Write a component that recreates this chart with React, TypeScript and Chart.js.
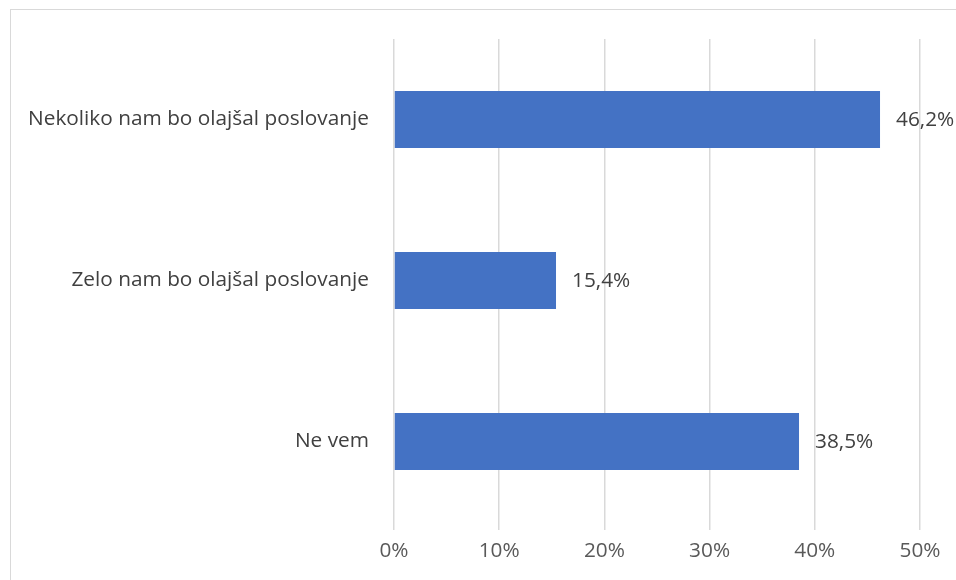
import React, { useEffect, useRef } from "react";
import { Chart, registerables } from "chart.js";

Chart.register(...registerables);

const categories = [
  "Nekoliko nam bo olajšal poslovanje",
  "Zelo nam bo olajšal poslovanje",
  "Ne vem",
];
const values = [46.2, 15.4, 38.5];
const valueLabels = ["46,2%", "15,4%", "38,5%"];
const tickValues = [0, 10, 20, 30, 40, 50];

const FONT = "'Open Sans', sans-serif";
const FSIZE = 20.8;

const barLabelPlugin = {
  id: "barLabels",
  afterDatasetsDraw(chart: any) {
    const ctx = chart.ctx;
    const meta = chart.getDatasetMeta(0);
    ctx.save();
    ctx.font = `${FSIZE}px ${FONT}`;
    ctx.fillStyle = "#404040";
    ctx.textAlign = "left";
    ctx.textBaseline = "middle";
    meta.data.forEach((bar: any, i: number) => {
      ctx.fillText(valueLabels[i], bar.x + 16, bar.y + 1);
    });
    ctx.restore();
  },
};

export default function App() {
  const ref = useRef<HTMLCanvasElement | null>(null);
  useEffect(() => {
    if (!ref.current) return;
    const chart = new Chart(ref.current, {
      type: "bar",
      data: {
        labels: categories,
        datasets: [
          {
            data: values,
            backgroundColor: "#4472C4",
            borderWidth: 0,
            categoryPercentage: 1,
            barPercentage: 0.354,
          },
        ],
      },
      options: {
        indexAxis: "y",
        animation: false,
        responsive: false,
        maintainAspectRatio: false,
        layout: { padding: { left: 0, right: 36, top: 39, bottom: 0 } },
        plugins: {
          legend: { display: false },
          tooltip: { enabled: false },
        },
        scales: {
          x: {
            min: 0,
            max: 50,
            afterBuildTicks: (scale: any) => {
              scale.ticks = tickValues.map((v) => ({ value: v }));
            },
            afterFit: (scale: any) => {
              scale.height = 58;
            },
            grid: {
              color: "#d9d9d9",
              lineWidth: 1.5,
              drawTicks: true,
              tickLength: 8,
            },
            border: { display: false },
            ticks: {
              color: "#595959",
              font: { family: FONT, size: FSIZE },
              padding: 9,
              callback: (v: any) => `${v}%`,
            },
          },
          y: {
            afterFit: (scale: any) => {
              scale.width = 394;
            },
            grid: { display: false, drawTicks: false },
            border: { display: false },
            ticks: {
              color: "#404040",
              font: { family: FONT, size: FSIZE },
              padding: 25,
            },
          },
        },
      },
      plugins: [barLabelPlugin],
    });
    return () => chart.destroy();
  }, []);

  return (
    <div
      style={{
        position: "fixed",
        left: 0,
        top: 0,
        width: 956,
        height: 580,
        overflow: "hidden",
        background: "#fff",
      }}
    >
      <div
        style={{
          position: "absolute",
          left: 10,
          top: 9,
          width: 980,
          height: 620,
          border: "1.5px solid #d9d9d9",
        }}
      />
      <canvas
        ref={ref}
        width={956}
        height={580}
        style={{ position: "absolute", left: 0, top: 0 }}
      />
    </div>
  );
}
